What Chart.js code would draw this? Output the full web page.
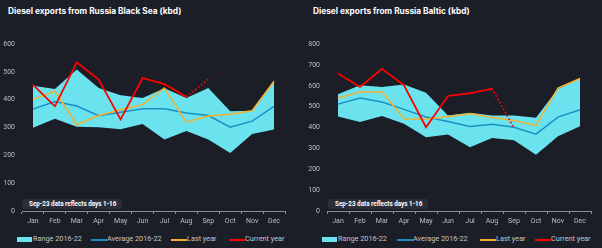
<!DOCTYPE html>
<html>
<head>
<meta charset="utf-8">
<script src="https://cdn.jsdelivr.net/npm/chart.js@4/dist/chart.umd.min.js"></script>
<style>
  html, body { margin: 0; padding: 0; background: #1b1e27; }
  body { width: 602px; height: 248px; position: relative; overflow: hidden; font-family: Roboto, "Liberation Sans", sans-serif; }
  .title { position: absolute; top: 6px; color: #ffffff; font-family: Inter, "DejaVu Sans", sans-serif; font-weight: 700; font-size: 8.3px; white-space: nowrap; }
  canvas { position: absolute; top: 30px; }
  .note { position: absolute; top: 199px; height: 10px; width: 100px; background: #2b2e39; border-radius: 3px; color: #fff; font-weight: 700; font-size: 6.3px; line-height: 10px; padding-left: 7px; box-sizing: border-box; white-space: nowrap; }
  .legend { position: absolute; top: 234px; height: 10px; color: #c4c4c4; font-size: 7.3px; line-height: 10px; white-space: nowrap; }
  .legend span { position: absolute; top: 0; }
  .legend i { position: absolute; display: block; width: 16px; }
</style>
</head>
<body>
<div class="title" style="left:8px">Diesel exports from Russia Black Sea (kbd)</div>
<div class="title" style="left:313px">Diesel exports from Russia Baltic (kbd)</div>

<canvas id="blackSea" width="300" height="200" style="left:0"></canvas>
<canvas id="baltic" width="302" height="200" style="left:300px"></canvas>

<div class="note" style="left:22px">Sep-23 data reflects days 1-16</div>
<div class="note" style="left:328px">Sep-23 data reflects days 1-16</div>

<div class="legend" id="legendLeft" style="left:0"></div>
<div class="legend" id="legendRight" style="left:300px"></div>

<script>
// Data
const months = ['Jan', 'Feb', 'Mar', 'Apr', 'May', 'Jun', 'Jul', 'Aug', 'Sep', 'Oct', 'Nov', 'Dec'];

const blackSeaRangeLow  = [299, 331, 303, 301, 294, 313, 257, 287, 257, 208, 277, 293];
const blackSeaRangeHigh = [450, 438, 508, 442, 416, 406, 441, 406, 442, 358, 360, 466];
const blackSeaAverage   = [366, 393, 377, 342, 355, 367, 367, 352, 343, 301, 323, 376];
const blackSeaLastYear  = [400, 431, 310, 343, 364, 382, 442, 319, 341, 348, 360, 466];
const blackSeaCurrent   = [454, 376, 534, 472, 329, 478, 456, 410, 473, null, null, null];

const balticRangeLow  = [453, 426, 455, 418, 353, 366, 305, 350, 339, 270, 358, 406];
const balticRangeHigh = [559, 602, 594, 606, 567, 458, 471, 458, 458, 447, 586, 635];
const balticAverage   = [512, 541, 522, 487, 450, 429, 405, 416, 401, 368, 450, 485];
const balticLastYear  = [541, 570, 570, 442, 439, 453, 466, 448, 434, 410, 589, 635];
const balticCurrent   = [659, 594, 681, 602, 401, 551, 564, 586, 398, null, null, null];

const legendLabels = ['Range 2016-22', 'Average 2016-22', 'Last year', 'Current year'];

const colors = {
  range: '#6ae3ef',
  average: '#1c8fc2',
  lastYear: '#f4b030',
  current: '#ff0000',
  axis: '#8a8c92',
  tick: '#bdbdbd'
};

// The Sep point of the current year is partial, so that segment is dotted
const partialIndex = 8;

function makeChart(id, low, high, avg, last, current, yMax, yAxisWidth, padRight) {
  const ctx = document.getElementById(id).getContext('2d');
  return new Chart(ctx, {
    type: 'line',
    data: {
      labels: months,
      datasets: [
        {
          label: 'Current year',
          data: current,
          borderColor: colors.current,
          borderWidth: 1.8,
          order: 0,
          segment: {
            borderDash: c => c.p1DataIndex === partialIndex ? [1.6, 2.2] : undefined
          }
        },
        { label: 'Last year', data: last, borderColor: colors.lastYear, borderWidth: 1.5, order: 1 },
        { label: 'Average 2016-22', data: avg, borderColor: colors.average, borderWidth: 1.5, order: 2 },
        {
          label: 'Range 2016-22',
          data: high,
          borderWidth: 0,
          borderColor: colors.range,
          backgroundColor: colors.range,
          fill: '+1',
          order: 3
        },
        { label: 'Range low', data: low, borderWidth: 0, borderColor: colors.range, order: 4 }
      ]
    },
    options: {
      responsive: false,
      animation: false,
      devicePixelRatio: 1,
      layout: { padding: { top: 14, right: padRight, left: 0, bottom: 0 } },
      elements: { point: { radius: 0 }, line: { tension: 0 } },
      plugins: { legend: { display: false }, tooltip: { enabled: false } },
      scales: {
        x: {
          offset: true,
          afterFit: axis => { axis.height = 19; },
          border: { display: true, color: colors.axis, width: 1 },
          grid: { display: true, offset: true, drawOnChartArea: false, drawTicks: true, tickLength: 3, color: colors.axis },
          ticks: { color: colors.tick, padding: 3, font: { family: 'Roboto', size: 7 }, maxRotation: 0 }
        },
        y: {
          min: 0,
          max: yMax,
          afterFit: axis => { axis.width = yAxisWidth; },
          border: { display: false },
          grid: { display: false, drawTicks: false },
          ticks: { stepSize: 100, color: colors.tick, padding: 7, font: { family: 'Roboto', size: 7 } }
        }
      }
    }
  });
}

makeChart('blackSea', blackSeaRangeLow, blackSeaRangeHigh, blackSeaAverage, blackSeaLastYear, blackSeaCurrent, 600, 22, 15);
makeChart('baltic', balticRangeLow, balticRangeHigh, balticAverage, balticLastYear, balticCurrent, 800, 27, 11);

// HTML legends under each chart
function buildLegend(id, starts) {
  const el = document.getElementById(id);
  const keys = ['range', 'average', 'lastYear', 'current'];
  legendLabels.forEach((text, i) => {
    const mark = document.createElement('i');
    mark.style.left = starts[i] + 'px';
    mark.style.background = colors[keys[i]];
    if (i === 0) {
      mark.style.top = '3px';
      mark.style.height = '5px';
      mark.style.width = '15px';
    } else {
      mark.style.top = '5px';
      mark.style.height = '1.5px';
    }
    el.appendChild(mark);
    const label = document.createElement('span');
    label.textContent = text;
    label.style.left = (starts[i] + 16) + 'px';
    el.appendChild(label);
  });
}

buildLegend('legendLeft', [17, 91, 171, 229]);
buildLegend('legendRight', [22, 97, 180, 235]);
</script>
</body>
</html>
